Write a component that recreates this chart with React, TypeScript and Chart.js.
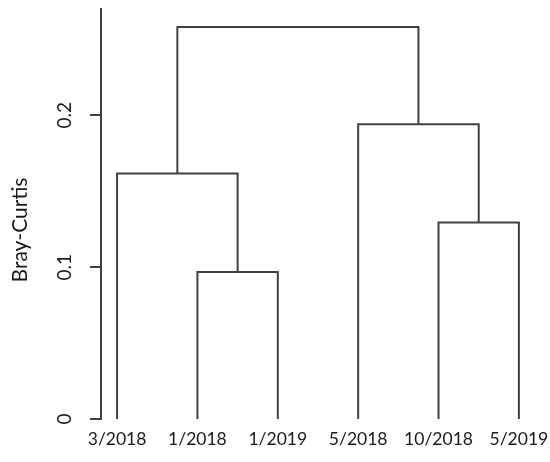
import React, { useEffect, useRef } from "react";
import { Chart, registerables } from "chart.js";

Chart.register(...registerables);

// Leaf labels in plotting order
const LEAVES: string[] = ["3/2018", "1/2018", "1/2019", "5/2018", "10/2018", "5/2019"];
// Merge matrix (R hclust style: negative = leaf index 1-based, positive = earlier merge)
const MERGE_LEFT: number[] = [-2, -5, -1, -4, 3];
const MERGE_RIGHT: number[] = [-3, -6, 1, 2, 4];
// Merge heights (Bray-Curtis dissimilarity)
const MERGE_HEIGHTS: number[] = [0.0968, 0.1294, 0.1617, 0.1941, 0.2582];
// Y-axis ticks
const Y_TICKS: number[] = [0, 0.1, 0.2];
const Y_MAX = 0.27;
const Y_TITLE = "Bray-Curtis";

const LINE_COLOR = "#404040";
const TEXT_COLOR = "#1a1a1a";
const FONT_FAMILY = "Lato, 'Open Sans', sans-serif";

function buildSegments() {
  const nodes: { x: number; y: number }[] = [];
  const pos = (ref: number) =>
    ref < 0 ? { x: -ref, y: 0 } : nodes[ref - 1];
  const datasets: any[] = [];
  MERGE_HEIGHTS.forEach((h, i) => {
    const a = pos(MERGE_LEFT[i]);
    const b = pos(MERGE_RIGHT[i]);
    const left = a.x <= b.x ? a : b;
    const right = a.x <= b.x ? b : a;
    datasets.push({
      data: [
        { x: left.x, y: left.y },
        { x: left.x, y: h },
        { x: right.x, y: h },
        { x: right.x, y: right.y },
      ],
      borderColor: LINE_COLOR,
      borderWidth: 2,
      pointRadius: 0,
      tension: 0,
      fill: false,
      borderJoinStyle: "miter",
      borderCapStyle: "butt",
      clip: false,
    });
    nodes.push({ x: (a.x + b.x) / 2, y: h });
  });
  return datasets;
}

const yTitlePlugin = {
  id: "yTitlePlugin",
  afterDraw(chart: any) {
    const { ctx, chartArea } = chart;
    ctx.save();
    ctx.font = `21px ${FONT_FAMILY}`;
    ctx.fillStyle = TEXT_COLOR;
    ctx.textAlign = "center";
    ctx.textBaseline = "middle";
    ctx.translate(20, (chartArea.top + chartArea.bottom) / 2 + 16);
    ctx.rotate(-Math.PI / 2);
    ctx.fillText(Y_TITLE, 0, 0);
    ctx.restore();
  },
};

export default function App() {
  const ref = useRef<HTMLCanvasElement | null>(null);
  useEffect(() => {
    if (!ref.current) return;
    const chart = new Chart(ref.current, {
      type: "line",
      data: { datasets: buildSegments() },
      plugins: [yTitlePlugin],
      options: {
        animation: false,
        responsive: true,
        maintainAspectRatio: false,
        layout: { padding: { top: 9, right: 7, bottom: 0, left: 0 } },
        plugins: { legend: { display: false }, tooltip: { enabled: false } },
        scales: {
          x: {
            type: "linear",
            min: 0.8,
            max: 6.3,
            grid: { display: false },
            border: { display: false },
            afterBuildTicks: (scale: any) => {
              scale.ticks = LEAVES.map((_, i) => ({ value: i + 1 }));
            },
            afterFit: (scale: any) => {
              scale.height = 43;
              scale.paddingLeft = 0;
              scale.paddingRight = 0;
            },
            ticks: {
              autoSkip: false,
              maxRotation: 0,
              minRotation: 0,
              padding: 2,
              color: TEXT_COLOR,
              font: { family: FONT_FAMILY, size: 17.5 },
              callback: (v: any) => LEAVES[Number(v) - 1] ?? "",
            },
          },
          y: {
            type: "linear",
            min: 0,
            max: Y_MAX,
            afterBuildTicks: (scale: any) => {
              scale.ticks = Y_TICKS.map((v) => ({ value: v }));
            },
            afterFit: (scale: any) => {
              scale.width = 101;
              scale.paddingTop = 0;
              scale.paddingBottom = 0;
            },
            border: { display: true, color: LINE_COLOR, width: 2 },
            grid: {
              display: true,
              drawOnChartArea: false,
              drawTicks: true,
              tickLength: 11,
              color: LINE_COLOR,
              lineWidth: 2,
            },
            ticks: {
              minRotation: 90,
              maxRotation: 90,
              crossAlign: "center",
              padding: 12,
              color: TEXT_COLOR,
              font: { family: FONT_FAMILY, size: 19 },
              callback: (v: any) => String(v),
            },
          },
        },
      } as any,
    });
    return () => chart.destroy();
  }, []);
  return (
    <div style={{ position: "absolute", left: 0, top: 0, width: 550, height: 462, background: "#fff" }}>
      <canvas ref={ref} />
    </div>
  );
}
